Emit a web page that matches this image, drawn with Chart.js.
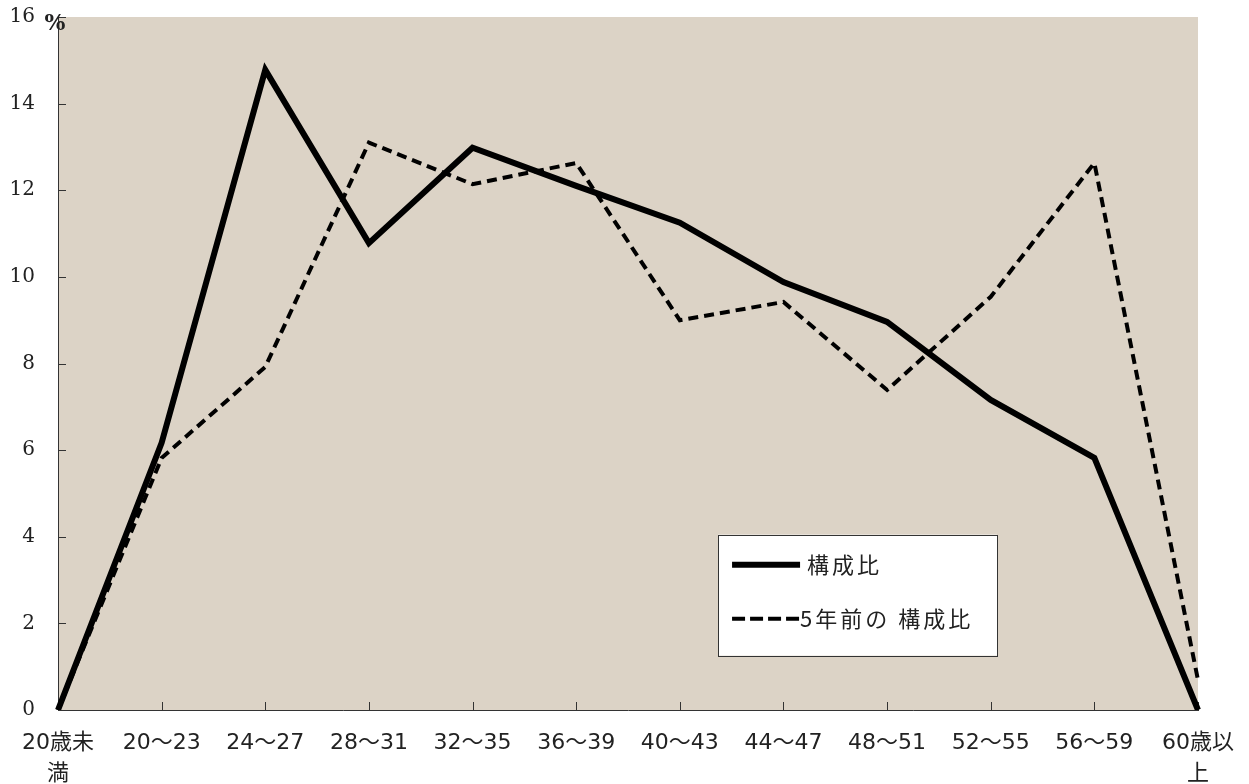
<!DOCTYPE html>
<html lang="ja">
<head>
    <meta charset="UTF-8">
    <title>年齢階級別 構成比</title>
    <script src="https://cdn.jsdelivr.net/npm/chart.js"></script>
    <style>
        html, body {
            margin: 0;
            padding: 0;
            background: #fff;
        }
        .chart-container {
            position: relative;
            width: 1249px;
            height: 784px;
        }
    </style>
</head>
<body>
    <div class="chart-container">
        <canvas id="ageChart"></canvas>
    </div>

    <script>
        // Data (%)
        const categories = ['20歳未満', '20〜23', '24〜27', '28〜31', '32〜35', '36〜39',
                            '40〜43', '44〜47', '48〜51', '52〜55', '56〜59', '60歳以上'];
        const shareNow = [0, 6.17, 14.78, 10.78, 12.98, 12.1, 11.25, 9.88, 8.96, 7.16, 5.82, 0];
        const shareFiveYearsAgo = [0, 5.82, 7.92, 13.1, 12.14, 12.63, 9.0, 9.42, 7.39, 9.54, 12.63, 0.69];
        const seriesNames = ['構成比', '5年前の 構成比'];
        const yMin = 0, yMax = 16, yStep = 2;
        const unitLabel = '%';

        const jpFont = '"DejaVu Sans", "Noto Sans CJK JP", sans-serif';

        // beige plot background
        const plotBackground = {
            id: 'plotBackground',
            beforeDraw(chart) {
                const { ctx, chartArea: a } = chart;
                ctx.save();
                ctx.fillStyle = '#dcd3c6';
                ctx.fillRect(a.left, a.top, a.right - a.left, a.bottom - a.top);
                ctx.restore();
            }
        };

        // tick marks pointing into the plot, plus the % unit
        const innerTicks = {
            id: 'innerTicks',
            beforeDatasetsDraw(chart) {
                const { ctx, chartArea: a, scales } = chart;
                ctx.save();
                ctx.strokeStyle = '#333';
                ctx.lineWidth = 1;
                ctx.beginPath();
                scales.y.ticks.forEach((t, i) => {
                    const y = Math.round(scales.y.getPixelForTick(i)) + 0.5;
                    ctx.moveTo(a.left, y);
                    ctx.lineTo(a.left + 8, y);
                });
                scales.x.ticks.forEach((t, i) => {
                    const x = Math.round(scales.x.getPixelForTick(i)) + 0.5;
                    ctx.moveTo(x, a.bottom);
                    ctx.lineTo(x, a.bottom - 8);
                });
                ctx.stroke();

                ctx.fillStyle = '#222';
                ctx.font = 'bold 22px "DejaVu Serif"';
                ctx.textAlign = 'center';
                ctx.textBaseline = 'middle';
                ctx.fillText(unitLabel, a.left - 3, a.top + 7);
                ctx.restore();
            }
        };

        // boxed legend inside the plot, lower right
        const boxLegend = {
            id: 'boxLegend',
            afterDraw(chart) {
                const { ctx, chartArea: a } = chart;
                const x = a.left + (a.right - a.left) * 0.579;
                const y = a.top + (a.bottom - a.top) * 0.747;
                const w = 279, h = 121;
                ctx.save();
                ctx.fillStyle = '#fff';
                ctx.fillRect(x, y, w, h);
                ctx.strokeStyle = '#333';
                ctx.lineWidth = 1;
                ctx.strokeRect(Math.round(x) + 0.5, Math.round(y) + 0.5, w, h);

                const rows = [y + 30, y + 84];
                chart.data.datasets.forEach((ds, i) => {
                    ctx.beginPath();
                    ctx.strokeStyle = ds.borderColor;
                    ctx.lineWidth = ds.borderWidth;
                    ctx.setLineDash(i === 0 ? [] : [13, 5]);
                    ctx.moveTo(x + 14, rows[i]);
                    ctx.lineTo(x + 82, rows[i]);
                    ctx.stroke();
                    ctx.setLineDash([]);

                    ctx.fillStyle = '#222';
                    ctx.font = '22px "Noto Sans CJK JP", sans-serif';
                    ctx.letterSpacing = '3px';
                    ctx.textAlign = 'left';
                    ctx.textBaseline = 'middle';
                    ctx.fillText(ds.label, x + (i === 0 ? 89 : 82), rows[i]);
                });
                ctx.restore();
            }
        };

        const ctx = document.getElementById('ageChart').getContext('2d');
        new Chart(ctx, {
            type: 'line',
            data: {
                labels: categories,
                datasets: [{
                    label: seriesNames[0],
                    data: shareNow,
                    borderColor: '#000',
                    borderWidth: 6,
                    borderJoinStyle: 'miter',
                    pointRadius: 0,
                    tension: 0
                }, {
                    label: seriesNames[1],
                    data: shareFiveYearsAgo,
                    borderColor: '#000',
                    borderWidth: 4,
                    borderDash: [10, 6],
                    borderJoinStyle: 'miter',
                    pointRadius: 0,
                    tension: 0
                }]
            },
            options: {
                responsive: true,
                maintainAspectRatio: false,
                animation: false,
                layout: {
                    padding: { top: 17, right: 51, bottom: 0, left: 0 }
                },
                plugins: {
                    legend: { display: false },
                    tooltip: { enabled: false }
                },
                scales: {
                    x: {
                        grid: { display: false },
                        border: { color: '#333', width: 1 },
                        ticks: {
                            autoSkip: false,
                            maxRotation: 0,
                            padding: 10,
                            color: '#222',
                            font: { family: jpFont, size: 22, lineHeight: 1.41 },
                            callback: function(value, index) {
                                const name = categories[index];
                                // the two end labels wrap before the last character
                                return name.includes('歳') ? [name.slice(0, 4), name.slice(4)] : name;
                            }
                        },
                        afterFit: function(scale) {
                            scale.height = 74;
                            scale.paddingLeft = 0;
                            scale.paddingRight = 0;
                        }
                    },
                    y: {
                        min: yMin,
                        max: yMax,
                        grid: { display: false },
                        border: { color: '#333', width: 1 },
                        ticks: {
                            stepSize: yStep,
                            padding: 15,
                            color: '#222',
                            font: { family: '"DejaVu Serif", serif', size: 20 }
                        },
                        afterFit: function(scale) {
                            scale.width = 58;
                            scale.paddingTop = 0;
                            scale.paddingBottom = 0;
                        }
                    }
                }
            },
            plugins: [plotBackground, innerTicks, boxLegend]
        });
    </script>
</body>
</html>
